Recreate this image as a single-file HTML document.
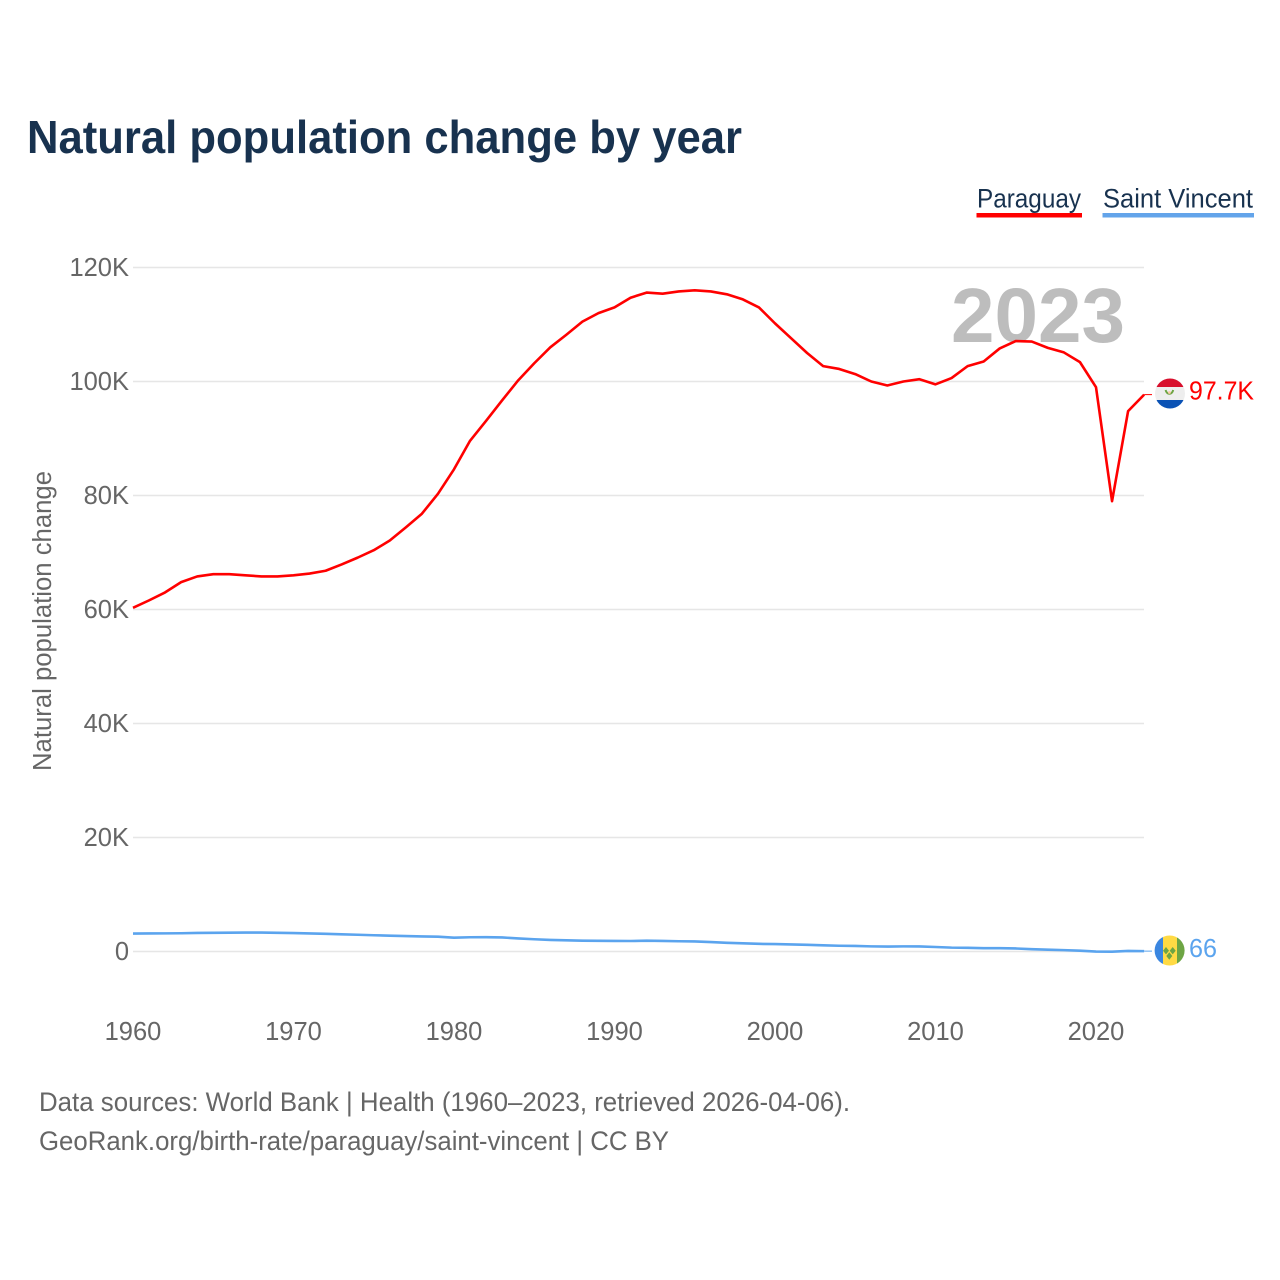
<!DOCTYPE html>
<html lang="en">
<head>
<meta charset="utf-8">
<title>Natural population change by year</title>
<style>
  html, body { margin: 0; padding: 0; background: #fff; }
  svg { display: block; font-family: "Liberation Sans", sans-serif; }
  .tick { font-size: 25.5px; fill: #666; }
</style>
</head>
<body>
<svg id="chart" xmlns="http://www.w3.org/2000/svg" width="1280" height="1280" viewBox="0 0 1280 1280">
  <defs>
    <clipPath id="clip-py"><circle cx="1170" cy="393.5" r="15"/></clipPath>
    <clipPath id="clip-vc"><circle cx="1169.6" cy="950.5" r="15"/></clipPath>
  </defs>
  <rect width="1280" height="1280" fill="#fff"/>
  <text x="27" y="153" font-size="46" font-weight="700" fill="#18324f" textLength="715" lengthAdjust="spacingAndGlyphs">Natural population change by year</text>

  <g>
    <text x="977" y="207.5" font-size="26.5" fill="#18324f" textLength="104" lengthAdjust="spacingAndGlyphs">Paraguay</text>
    <rect x="976.5" y="213" width="105.5" height="4.5" fill="#ff0000"/>
  </g>
  <g>
    <text x="1103" y="207.5" font-size="26.5" fill="#18324f" textLength="150" lengthAdjust="spacingAndGlyphs">Saint Vincent</text>
    <rect x="1102.5" y="213" width="151.5" height="4.5" fill="#63a4ea"/>
  </g>

  <g id="grid"></g>
  <text x="951" y="342" font-size="77" font-weight="700" fill="#bdbdbd" textLength="174" lengthAdjust="spacingAndGlyphs">2023</text>
  <g id="yticks"></g>
  <g id="xticks"></g>
  <text transform="translate(51,621) rotate(-90)" text-anchor="middle" font-size="25.5" fill="#666" textLength="300" lengthAdjust="spacingAndGlyphs">Natural population change</text>
  <g id="series"></g>

  <g clip-path="url(#clip-py)">
    <rect x="1154" y="378" width="32" height="9" fill="#d80f2d"/>
    <rect x="1154" y="387" width="32" height="13" fill="#eeeeee"/>
    <rect x="1154" y="400" width="32" height="10" fill="#0a52b5"/>
    <path d="M1165.6 390a4 5.5 0 0 0 7.6 0" fill="none" stroke="#6da544" stroke-width="2"/>
    <circle cx="1169.4" cy="392.5" r="1.4" fill="#ffc9a8"/>
  </g>
  <text x="1189" y="399.5" font-size="25.5" fill="#ff0000" textLength="65" lengthAdjust="spacingAndGlyphs">97.7K</text>

  <g clip-path="url(#clip-vc)">
    <rect x="1154" y="935" width="9" height="31" fill="#3a86e0"/>
    <rect x="1163" y="935" width="14" height="31" fill="#ffda44"/>
    <rect x="1177" y="935" width="9" height="31" fill="#6da544"/>
    <path d="M1166 947l3 3.7-3 3.7-3-3.7zM1172.7 947l3 3.7-3 3.7-3-3.7zM1169.3 952.3l3 3.7-3 3.7-3-3.7z" fill="#6da544"/>
  </g>
  <text x="1189" y="957" font-size="25.5" fill="#5ba4ee" textLength="28" lengthAdjust="spacingAndGlyphs">66</text>

  <text x="39" y="1111" font-size="26.5" fill="#666" textLength="811" lengthAdjust="spacingAndGlyphs">Data sources: World Bank | Health (1960–2023, retrieved 2026-04-06).</text>
  <text x="39" y="1150" font-size="26.5" fill="#666" textLength="630" lengthAdjust="spacingAndGlyphs">GeoRank.org/birth-rate/paraguay/saint-vincent | CC BY</text>
</svg>
<script>
const startYear = 1960;
const yTickValues = [0, 20000, 40000, 60000, 80000, 100000, 120000];
const yTickLabels = ["0", "20K", "40K", "60K", "80K", "100K", "120K"];
const xTickValues = [1960, 1970, 1980, 1990, 2000, 2010, 2020];
const paraguayValues = [60300,61600,63000,64800,65800,66200,66200,66000,65800,65800,66000,66300,66800,67900,69100,70400,72100,74400,76800,80300,84600,89600,93100,96700,100200,103200,106000,108200,110500,112000,113000,114700,115600,115400,115800,116000,115800,115300,114400,113000,110200,107600,105000,102700,102200,101300,100000,99300,100000,100400,99500,100600,102700,103500,105800,107100,107000,105900,105100,103400,99000,79000,94800,97700];
const saintVincentValues = [3150,3170,3180,3200,3250,3280,3300,3320,3320,3280,3230,3170,3100,3020,2940,2850,2770,2700,2640,2600,2420,2500,2520,2460,2300,2150,2030,1970,1900,1870,1850,1840,1900,1860,1800,1760,1650,1530,1430,1340,1310,1240,1170,1090,1010,970,900,860,900,880,790,680,640,590,590,530,400,310,240,150,-20,-30,100,66];
const seriesColors = { paraguay: "#ff0000", saintVincent: "#5ba4ee" };

const svgNS = "http://www.w3.org/2000/svg";
function xScale(year) { return 133 + (year - 1960) * 16.05; }
function yScale(v) { return 951.5 - v * 0.0057; }

const grid = document.getElementById("grid");
const yticks = document.getElementById("yticks");
const xticks = document.getElementById("xticks");
const series = document.getElementById("series");

yTickValues.forEach(function (v, i) {
  const line = document.createElementNS(svgNS, "line");
  
  
  line.setAttribute("x1", 133);
  line.setAttribute("x2", 1144);
  line.setAttribute("y1", yScale(v));
  line.setAttribute("y2", yScale(v));
  line.setAttribute("stroke", "#e6e6e6");
  line.setAttribute("stroke-width", 1.5);
  grid.appendChild(line);

  const label = document.createElementNS(svgNS, "text");
  
  
  label.setAttribute("class", "tick");
  label.setAttribute("x", 129);
  label.setAttribute("y", yScale(v) + 8.5);
  label.setAttribute("text-anchor", "end");
  label.textContent = yTickLabels[i];
  yticks.appendChild(label);
});

xTickValues.forEach(function (year) {
  const label = document.createElementNS(svgNS, "text");
  
  
  label.setAttribute("class", "tick");
  label.setAttribute("x", xScale(year));
  label.setAttribute("y", 1040);
  label.setAttribute("text-anchor", "middle");
  label.textContent = year;
  xticks.appendChild(label);
});

function linePath(values) {
  return values.map(function (v, i) {
    return (i ? "L" : "M") + xScale(startYear + i).toFixed(2) + " " + yScale(v).toFixed(2);
  }).join("");
}

const paraguayLine = document.createElementNS(svgNS, "path");


paraguayLine.setAttribute("d", linePath(paraguayValues));
paraguayLine.setAttribute("fill", "none");
paraguayLine.setAttribute("stroke", seriesColors.paraguay);
paraguayLine.setAttribute("stroke-width", 2.6);
paraguayLine.setAttribute("stroke-linejoin", "round");
series.appendChild(paraguayLine);

const saintVincentLine = document.createElementNS(svgNS, "path");


saintVincentLine.setAttribute("d", linePath(saintVincentValues));
saintVincentLine.setAttribute("fill", "none");
saintVincentLine.setAttribute("stroke", seriesColors.saintVincent);
saintVincentLine.setAttribute("stroke-width", 2.6);
saintVincentLine.setAttribute("stroke-linejoin", "round");
series.appendChild(saintVincentLine);

const lastYearX = xScale(startYear + paraguayValues.length - 1);

const paraguayConnector = document.createElementNS(svgNS, "line");


paraguayConnector.setAttribute("x1", lastYearX);
paraguayConnector.setAttribute("x2", 1152);
paraguayConnector.setAttribute("y1", yScale(paraguayValues[paraguayValues.length - 1]));
paraguayConnector.setAttribute("y2", yScale(paraguayValues[paraguayValues.length - 1]));
paraguayConnector.setAttribute("stroke", seriesColors.paraguay);
paraguayConnector.setAttribute("stroke-width", 1);
series.appendChild(paraguayConnector);

const saintVincentConnector = document.createElementNS(svgNS, "line");


saintVincentConnector.setAttribute("x1", lastYearX);
saintVincentConnector.setAttribute("x2", 1152);
saintVincentConnector.setAttribute("y1", yScale(saintVincentValues[saintVincentValues.length - 1]));
saintVincentConnector.setAttribute("y2", yScale(saintVincentValues[saintVincentValues.length - 1]));
saintVincentConnector.setAttribute("stroke", seriesColors.saintVincent);
saintVincentConnector.setAttribute("stroke-width", 1);
series.appendChild(saintVincentConnector);
</script>
</body>
</html>
